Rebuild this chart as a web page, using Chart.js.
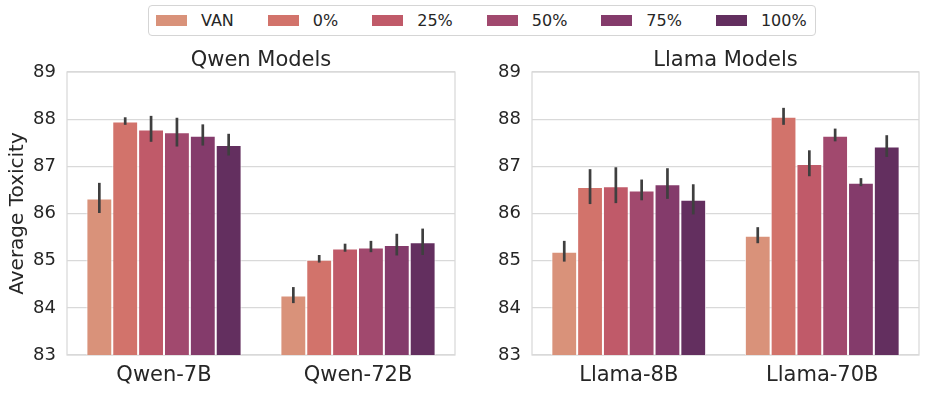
<!DOCTYPE html>
<html>
<head>
<meta charset="utf-8">
<script src="https://cdn.jsdelivr.net/npm/chart.js@4.4.1/dist/chart.umd.min.js"></script>
<style>
  html, body { margin: 0; padding: 0; background: #fff; }
  body { width: 927px; height: 394px; position: relative; overflow: hidden; font-family: "DejaVu Sans", sans-serif; }
  #legend {
    position: absolute; left: 148px; top: 5px; width: 668px; height: 31px;
    box-sizing: border-box; border: 1px solid #d5d5d5; border-radius: 4px;
    display: flex; align-items: center; padding-left: 7px;
    font-size: 16px; color: #262626;
  }
  .item { display: flex; align-items: center; margin-right: 34px; }
  .item:last-child { margin-right: 0; }
  .patch { width: 31px; height: 11px; margin-right: 14px; }
  canvas { position: absolute; top: 40px; }
  #qwenChart { left: 0; }
  #llamaChart { left: 462px; }
</style>
</head>
<body>
<div id="legend"></div>
<canvas id="qwenChart" width="462" height="354"></canvas>
<canvas id="llamaChart" width="465" height="354"></canvas>
<script>
// настройки (легенда)
const settings = ['VAN', '0%', '25%', '50%', '75%', '100%'];
const colors = ['#d9927a', '#d2736b', '#c05a69', '#a1496e', '#843b6b', '#632f5f'];

const qwenModels = ['Qwen-7B', 'Qwen-72B'];
const llamaModels = ['Llama-8B', 'Llama-70B'];

// средние значения и границы доверительного интервала
const qwen7bMean = [86.32, 87.95, 87.78, 87.72, 87.65, 87.45];
const qwen7bLow = [86.01, 87.88, 87.52, 87.42, 87.44, 87.23];
const qwen7bHigh = [86.65, 88.04, 88.07, 88.03, 87.89, 87.69];

const qwen72bMean = [84.26, 85.02, 85.26, 85.28, 85.33, 85.39];
const qwen72bLow = [84.10, 84.96, 85.19, 85.18, 85.11, 85.12];
const qwen72bHigh = [84.44, 85.12, 85.36, 85.42, 85.57, 85.68];

const llama8bMean = [85.19, 86.56, 86.58, 86.49, 86.62, 86.29];
const llama8bLow = [84.98, 86.20, 86.22, 86.28, 86.31, 85.98];
const llama8bHigh = [85.42, 86.94, 86.98, 86.72, 86.96, 86.62];

const llama70bMean = [85.53, 88.05, 87.05, 87.65, 86.65, 87.42];
const llama70bLow = [85.37, 87.88, 86.79, 87.53, 86.58, 87.20];
const llama70bHigh = [85.71, 88.24, 87.34, 87.80, 86.75, 87.66];

const yTicks = [83, 84, 85, 86, 87, 88, 89];

const textColor = '#262626';
const gridColor = '#d9d9d9';

// легенда
const legendEl = document.getElementById('legend');
settings.forEach((s, i) => {
  const item = document.createElement('div');
  item.className = 'item';
  item.innerHTML = `<span class="patch" style="background:${colors[i]}"></span><span>${s}</span>`;
  legendEl.appendChild(item);
});

// рамка вокруг области графика
const frame = {
  id: 'frame',
  beforeDatasetsDraw(chart) {
    const {ctx, chartArea: a} = chart;
    ctx.save();
    ctx.strokeStyle = gridColor;
    ctx.lineWidth = 1.25;
    ctx.strokeRect(a.left, a.top, a.right - a.left, a.bottom - a.top);
    ctx.restore();
  }
};

// усы ошибок
const errorBars = {
  id: 'errorBars',
  afterDatasetsDraw(chart) {
    const {ctx} = chart;
    const y = chart.scales.y;
    ctx.save();
    ctx.strokeStyle = '#3f3f3f';
    ctx.lineWidth = 2.7;
    chart.data.datasets.forEach((ds, i) => {
      chart.getDatasetMeta(i).data.forEach((bar, j) => {
        ctx.beginPath();
        ctx.moveTo(bar.x, y.getPixelForValue(ds.errLow[j]));
        ctx.lineTo(bar.x, y.getPixelForValue(ds.errHigh[j]));
        ctx.stroke();
      });
    });
    ctx.restore();
  }
};

// заголовок панели по центру области графика
const panelTitle = {
  id: 'panelTitle',
  afterDraw(chart, args, opts) {
    const {ctx, chartArea: a} = chart;
    ctx.save();
    ctx.font = '21px "DejaVu Sans"';
    ctx.fillStyle = textColor;
    ctx.textAlign = 'center';
    ctx.textBaseline = 'alphabetic';
    ctx.fillText(opts.text, (a.left + a.right) / 2, a.top - 6);
    ctx.restore();
  }
};

function buildDatasets(means, lows, highs) {
  return settings.map((s, i) => ({
    label: s,
    data: means.map(m => m[i]),
    errLow: lows.map(l => l[i]),
    errHigh: highs.map(h => h[i]),
    backgroundColor: colors[i],
    borderColor: 'rgba(255,255,255,0.85)',
    borderWidth: 1,
    borderSkipped: 'start',
    categoryPercentage: 0.8,
    barPercentage: 1
  }));
}

function makeChart(canvas, labels, datasets, title, showYTitle, yWidth, padRight) {
  return new Chart(canvas, {
    type: 'bar',
    data: {labels: labels, datasets: datasets},
    options: {
      responsive: false,
      animation: false,
      devicePixelRatio: 1,
      layout: {padding: {top: 32, right: padRight, left: 0, bottom: 0}},
      plugins: {
        legend: {display: false},
        tooltip: {enabled: false},
        panelTitle: {text: title}
      },
      scales: {
        x: {
          grid: {display: false, drawTicks: false},
          border: {display: false},
          ticks: {color: textColor, font: {family: 'DejaVu Sans', size: 21}, padding: 8},
          afterFit: s => { s.height = 39; }
        },
        y: {
          min: 83,
          max: 89,
          afterBuildTicks: s => { s.ticks = yTicks.map(v => ({value: v})); },
          grid: {color: gridColor, lineWidth: 1.25, drawTicks: false},
          border: {display: false},
          ticks: {color: textColor, font: {family: 'DejaVu Sans', size: 18}, padding: 11},
          title: {
            display: showYTitle,
            text: 'Average Toxicity',
            color: textColor,
            font: {family: 'DejaVu Sans', size: 20},
            padding: {top: 6, bottom: 0}
          },
          afterFit: s => { s.width = yWidth; }
        }
      }
    },
    plugins: [frame, errorBars, panelTitle]
  });
}

makeChart(
  document.getElementById('qwenChart'),
  qwenModels,
  buildDatasets([qwen7bMean, qwen72bMean], [qwen7bLow, qwen72bLow], [qwen7bHigh, qwen72bHigh]),
  'Qwen Models', true, 67, 7
);

makeChart(
  document.getElementById('llamaChart'),
  llamaModels,
  buildDatasets([llama8bMean, llama70bMean], [llama8bLow, llama70bLow], [llama8bHigh, llama70bHigh]),
  'Llama Models', false, 70, 8
);
</script>
</body>
</html>
